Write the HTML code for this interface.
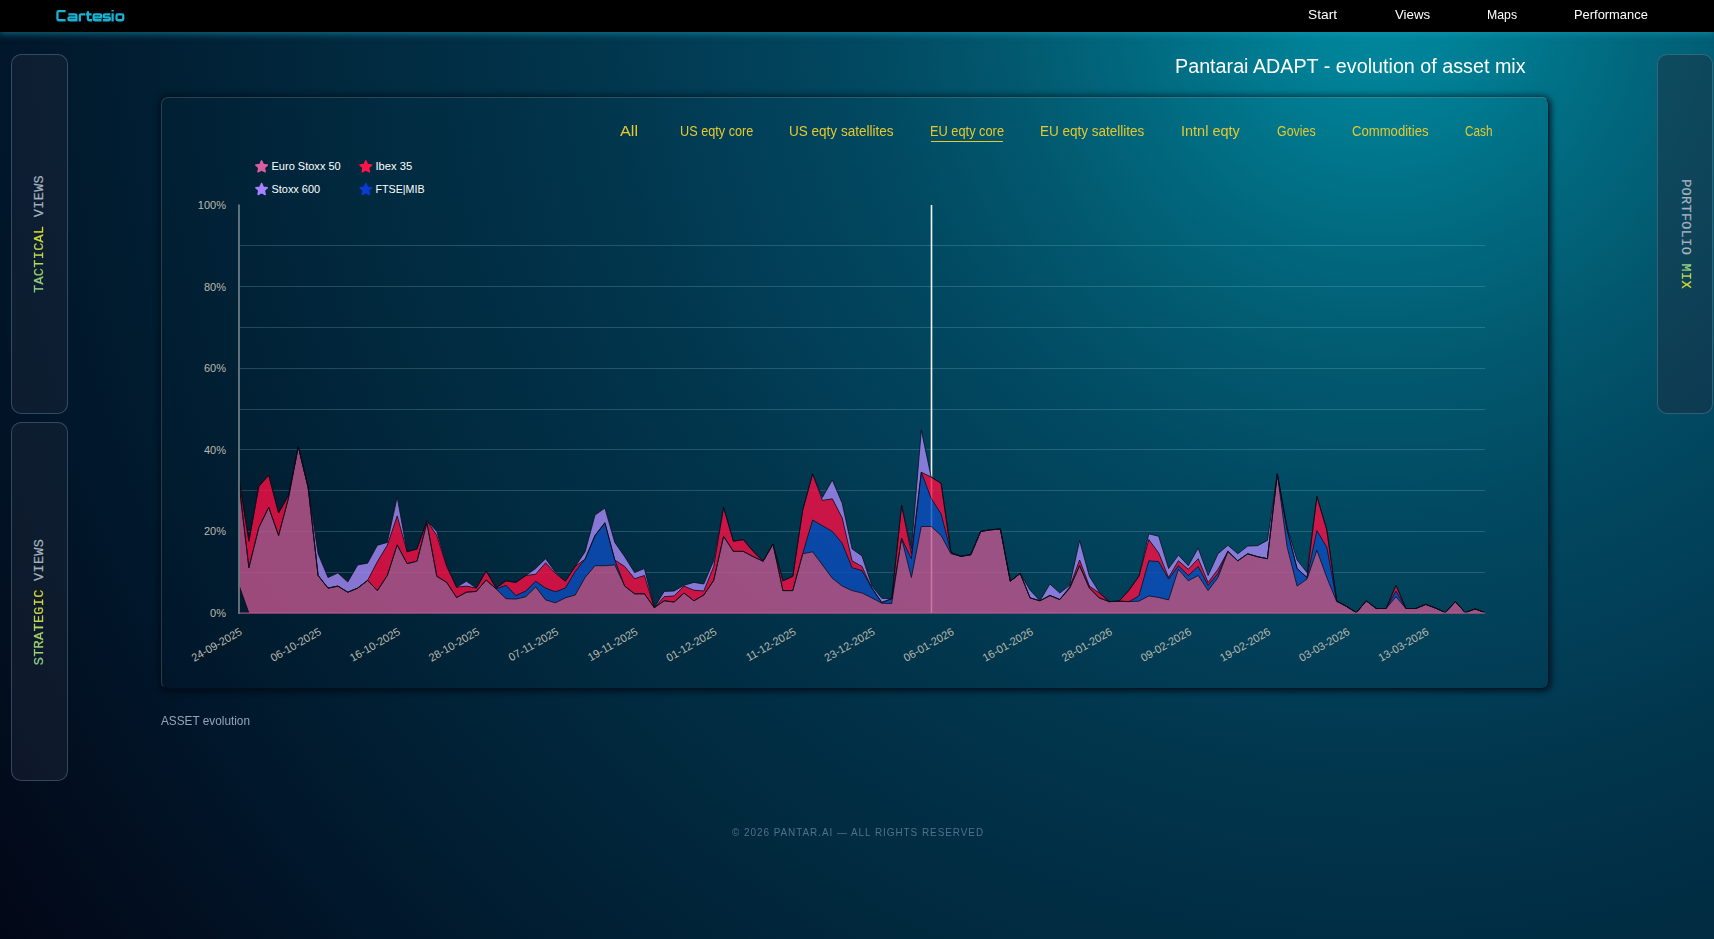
<!DOCTYPE html>
<html lang="en"><head><meta charset="utf-8"><title>Cartesio</title>
<style>
html,body{margin:0;padding:0}
body{width:1714px;height:939px;overflow:hidden;position:relative;font-family:"Liberation Sans",sans-serif;
background:#021426;}
#bg{position:absolute;left:0;top:0;width:1714px;height:939px;
background:radial-gradient(circle 1750px at 1380px 0px, rgb(0,138,160) 0px, rgb(0,128,150) 92px, rgb(1,103,125) 262px, rgb(2,88,110) 379px, rgb(1,72,96) 527px, rgb(2,64,89) 639px, rgb(1,55,78) 771px, rgb(1,46,68) 927px, rgb(1,44,66) 982px, rgb(1,30,50) 1244px, rgb(1,24,44) 1351px, rgb(2,13,30) 1550px, rgb(2,8,24) 1648px, rgb(2,5,19) 1750px);}
#hdr{position:absolute;left:0;top:0;width:1714px;height:31.5px;background:#000;box-shadow:0 1px 7px 1px rgba(25,160,190,.55);}
.tx{position:absolute;white-space:nowrap;transform-origin:0 50%;}
.panel{position:absolute;border:1px solid rgba(110,150,175,.38);border-radius:10px;background:rgba(30,41,59,.42);box-sizing:border-box;}
.vt{position:absolute;white-space:nowrap;font-family:"Liberation Mono",monospace;font-size:13.5px;letter-spacing:0.33px;color:#a6b2be;line-height:16px;-webkit-text-stroke:0.2px #a6b2be;}
.grad{background:linear-gradient(90deg,#79cd9c,#ece21c);-webkit-background-clip:text;background-clip:text;color:transparent;-webkit-text-stroke:0.2px rgba(200,215,90,.75);}
#card{position:absolute;left:161px;top:96.5px;width:1388px;height:592px;box-sizing:border-box;border-radius:7px;
border:1px solid;border-color:rgba(150,158,165,.27) rgba(0,14,28,.8) rgba(0,14,28,.8) rgba(150,158,165,.27);box-shadow:0 0 7px 1px rgba(0,5,15,.62), 2px 2px 5px rgba(0,5,15,.35);}
#ul{position:absolute;left:931px;top:140.8px;width:72px;height:1.2px;background:#e6c830;}
</style></head><body>
<div id="bg"></div>
<div id="hdr"></div>
<div class="panel" style="left:10.5px;top:54px;width:57px;height:359.5px"></div>
<div class="panel" style="left:10.5px;top:421.5px;width:57px;height:359.5px"></div>
<div class="panel" style="left:1656.5px;top:54px;width:56px;height:359.5px"></div>
<div class="vt" id="v1" style="left:40.2px;top:234.4px;transform:translate(-50%,-50%) rotate(-90deg)"><span class="grad">TACTICAL</span> VIEWS</div>
<div class="vt" id="v2" style="left:40.2px;top:602px;transform:translate(-50%,-50%) rotate(-90deg)"><span class="grad">STRATEGIC</span> VIEWS</div>
<div class="vt" id="v3" style="left:1685px;top:233.6px;transform:translate(-50%,-50%) rotate(90deg)">PORTFOLIO <span class="grad">MIX</span></div>
<div id="card"></div>
<svg id="chart" width="1714" height="939" viewBox="0 0 1714 939" style="position:absolute;left:0;top:0">
<line x1="239.0" y1="572.5" x2="1485.0" y2="572.5" stroke="#8fc3cf" stroke-opacity="0.24" stroke-width="1"/>
<line x1="239.0" y1="531.5" x2="1485.0" y2="531.5" stroke="#8fc3cf" stroke-opacity="0.24" stroke-width="1"/>
<line x1="239.0" y1="490.5" x2="1485.0" y2="490.5" stroke="#8fc3cf" stroke-opacity="0.24" stroke-width="1"/>
<line x1="239.0" y1="449.5" x2="1485.0" y2="449.5" stroke="#8fc3cf" stroke-opacity="0.24" stroke-width="1"/>
<line x1="239.0" y1="409.5" x2="1485.0" y2="409.5" stroke="#8fc3cf" stroke-opacity="0.24" stroke-width="1"/>
<line x1="239.0" y1="368.5" x2="1485.0" y2="368.5" stroke="#8fc3cf" stroke-opacity="0.24" stroke-width="1"/>
<line x1="239.0" y1="327.5" x2="1485.0" y2="327.5" stroke="#8fc3cf" stroke-opacity="0.24" stroke-width="1"/>
<line x1="239.0" y1="286.5" x2="1485.0" y2="286.5" stroke="#8fc3cf" stroke-opacity="0.24" stroke-width="1"/>
<line x1="239.0" y1="245.5" x2="1485.0" y2="245.5" stroke="#8fc3cf" stroke-opacity="0.24" stroke-width="1"/>
<line x1="931.5" y1="205" x2="931.5" y2="613" stroke="#ffffff" stroke-width="1.6" stroke-opacity="0.95"/>
<path d="M239.0,478.8 L248.9,541.2 L258.8,486.5 L268.7,475.1 L278.6,513.0 L288.4,495.5 L298.3,446.5 L308.2,487.7 L318.1,553.8 L328.0,577.5 L337.9,573.0 L347.8,582.0 L357.7,564.9 L367.6,563.2 L377.4,545.3 L387.3,542.4 L397.2,497.1 L407.1,551.8 L417.0,548.9 L426.9,520.8 L436.8,531.4 L446.7,565.3 L456.6,587.3 L466.4,581.2 L476.3,588.1 L486.2,571.0 L496.1,588.1 L506.0,580.8 L515.9,582.4 L525.8,575.5 L535.7,568.5 L545.6,558.7 L555.4,572.2 L565.3,581.2 L575.2,566.5 L585.1,551.8 L595.0,515.1 L604.9,508.1 L614.8,542.4 L624.7,556.7 L634.6,572.6 L644.4,568.5 L654.3,607.7 L664.2,591.4 L674.1,591.0 L684.0,585.3 L693.9,582.4 L703.8,584.0 L713.7,560.8 L723.6,507.3 L733.4,541.2 L743.3,539.6 L753.2,551.4 L763.1,561.2 L773.0,544.0 L782.9,580.8 L792.8,576.3 L802.7,510.2 L812.6,473.9 L822.4,497.5 L832.3,480.0 L842.2,503.2 L852.1,548.9 L862.0,555.9 L871.9,586.1 L881.8,598.3 L891.7,598.7 L901.6,505.3 L911.4,548.9 L921.3,430.2 L931.2,477.1 L941.1,483.3 L951.0,552.6 L960.9,556.3 L970.8,554.7 L980.7,531.4 L990.6,529.8 L1000.4,529.0 L1010.3,581.2 L1020.2,573.4 L1030.1,590.2 L1040.0,600.8 L1049.9,584.0 L1059.8,593.0 L1069.7,585.3 L1079.6,540.4 L1089.4,576.3 L1099.3,592.2 L1109.2,601.6 L1119.1,601.2 L1129.0,590.2 L1138.9,576.3 L1148.8,533.8 L1158.7,536.3 L1168.6,568.5 L1178.4,555.1 L1188.3,565.7 L1198.2,548.1 L1208.1,575.5 L1218.0,553.8 L1227.9,545.3 L1237.8,553.8 L1247.7,546.1 L1257.6,545.7 L1267.4,540.4 L1277.3,473.9 L1287.2,527.7 L1297.1,560.0 L1307.0,572.6 L1316.9,496.3 L1326.8,529.8 L1336.7,600.8 L1346.6,606.5 L1356.4,612.6 L1366.3,600.8 L1376.2,608.5 L1386.1,608.5 L1396.0,585.3 L1405.9,608.5 L1415.8,608.5 L1425.7,604.4 L1435.6,608.1 L1445.4,612.6 L1455.3,601.6 L1465.2,612.6 L1475.1,608.9 L1485.0,612.6 L1485.0,612.6 L1475.1,608.9 L1465.2,612.6 L1455.3,601.6 L1445.4,612.6 L1435.6,608.1 L1425.7,604.4 L1415.8,608.5 L1405.9,608.5 L1396.0,585.3 L1386.1,608.5 L1376.2,608.5 L1366.3,600.8 L1356.4,612.6 L1346.6,606.5 L1336.7,600.8 L1326.8,529.8 L1316.9,496.3 L1307.0,577.5 L1297.1,568.5 L1287.2,529.8 L1277.3,473.9 L1267.4,558.7 L1257.6,556.7 L1247.7,553.8 L1237.8,560.8 L1227.9,551.4 L1218.0,569.3 L1208.1,582.4 L1198.2,558.7 L1188.3,569.3 L1178.4,560.8 L1168.6,577.5 L1158.7,553.0 L1148.8,539.6 L1138.9,576.3 L1129.0,590.2 L1119.1,601.2 L1109.2,601.6 L1099.3,593.0 L1089.4,586.1 L1079.6,560.0 L1069.7,586.9 L1059.8,599.5 L1049.9,595.5 L1040.0,600.8 L1030.1,597.9 L1020.2,573.4 L1010.3,581.2 L1000.4,529.0 L990.6,529.8 L980.7,531.4 L970.8,554.7 L960.9,556.3 L951.0,552.6 L941.1,483.3 L931.2,477.1 L921.3,472.2 L911.4,553.8 L901.6,505.3 L891.7,598.7 L881.8,602.4 L871.9,588.1 L862.0,566.5 L852.1,560.8 L842.2,517.9 L832.3,498.8 L822.4,500.4 L812.6,473.9 L802.7,510.2 L792.8,576.3 L782.9,580.8 L773.0,544.0 L763.1,561.2 L753.2,551.4 L743.3,539.6 L733.4,541.2 L723.6,507.3 L713.7,566.5 L703.8,591.0 L693.9,590.2 L684.0,586.1 L674.1,595.9 L664.2,596.7 L654.3,607.7 L644.4,575.5 L634.6,578.7 L624.7,566.5 L614.8,560.0 L604.9,522.8 L595.0,535.5 L585.1,559.1 L575.2,566.5 L565.3,581.2 L555.4,573.4 L545.6,562.8 L535.7,574.2 L525.8,575.5 L515.9,582.4 L506.0,580.8 L496.1,588.1 L486.2,571.0 L476.3,588.1 L466.4,586.1 L456.6,587.3 L446.7,566.5 L436.8,535.5 L426.9,520.8 L417.0,548.9 L407.1,551.8 L397.2,515.9 L387.3,545.3 L377.4,561.6 L367.6,580.4 L357.7,588.1 L347.8,592.2 L337.9,586.1 L328.0,588.1 L318.1,575.5 L308.2,487.7 L298.3,446.5 L288.4,495.5 L278.6,513.0 L268.7,475.1 L258.8,486.5 L248.9,541.2 L239.0,478.8 Z" fill="#a78bf9" fill-opacity="0.8"/>
<path d="M239.0,478.8 L248.9,541.2 L258.8,486.5 L268.7,475.1 L278.6,513.0 L288.4,495.5 L298.3,446.5 L308.2,487.7 L318.1,575.5 L328.0,588.1 L337.9,586.1 L347.8,592.2 L357.7,588.1 L367.6,580.4 L377.4,561.6 L387.3,545.3 L397.2,515.9 L407.1,551.8 L417.0,548.9 L426.9,520.8 L436.8,535.5 L446.7,566.5 L456.6,587.3 L466.4,586.1 L476.3,588.1 L486.2,571.0 L496.1,588.1 L506.0,580.8 L515.9,582.4 L525.8,575.5 L535.7,574.2 L545.6,562.8 L555.4,573.4 L565.3,581.2 L575.2,566.5 L585.1,559.1 L595.0,535.5 L604.9,522.8 L614.8,560.0 L624.7,566.5 L634.6,578.7 L644.4,575.5 L654.3,607.7 L664.2,596.7 L674.1,595.9 L684.0,586.1 L693.9,590.2 L703.8,591.0 L713.7,566.5 L723.6,507.3 L733.4,541.2 L743.3,539.6 L753.2,551.4 L763.1,561.2 L773.0,544.0 L782.9,580.8 L792.8,576.3 L802.7,510.2 L812.6,473.9 L822.4,500.4 L832.3,498.8 L842.2,517.9 L852.1,560.8 L862.0,566.5 L871.9,588.1 L881.8,602.4 L891.7,598.7 L901.6,505.3 L911.4,553.8 L921.3,472.2 L931.2,477.1 L941.1,483.3 L951.0,552.6 L960.9,556.3 L970.8,554.7 L980.7,531.4 L990.6,529.8 L1000.4,529.0 L1010.3,581.2 L1020.2,573.4 L1030.1,597.9 L1040.0,600.8 L1049.9,595.5 L1059.8,599.5 L1069.7,586.9 L1079.6,560.0 L1089.4,586.1 L1099.3,593.0 L1109.2,601.6 L1119.1,601.2 L1129.0,590.2 L1138.9,576.3 L1148.8,539.6 L1158.7,553.0 L1168.6,577.5 L1178.4,560.8 L1188.3,569.3 L1198.2,558.7 L1208.1,582.4 L1218.0,569.3 L1227.9,551.4 L1237.8,560.8 L1247.7,553.8 L1257.6,556.7 L1267.4,558.7 L1277.3,473.9 L1287.2,529.8 L1297.1,568.5 L1307.0,577.5 L1316.9,496.3 L1326.8,529.8 L1336.7,600.8 L1346.6,606.5 L1356.4,612.6 L1366.3,600.8 L1376.2,608.5 L1386.1,608.5 L1396.0,585.3 L1405.9,608.5 L1415.8,608.5 L1425.7,604.4 L1435.6,608.1 L1445.4,612.6 L1455.3,601.6 L1465.2,612.6 L1475.1,608.9 L1485.0,612.6 L1485.0,612.6 L1475.1,608.9 L1465.2,612.6 L1455.3,601.6 L1445.4,612.6 L1435.6,608.1 L1425.7,604.4 L1415.8,608.5 L1405.9,608.5 L1396.0,591.0 L1386.1,608.5 L1376.2,608.5 L1366.3,600.8 L1356.4,612.6 L1346.6,606.5 L1336.7,600.8 L1326.8,547.3 L1316.9,530.6 L1307.0,577.5 L1297.1,568.5 L1287.2,529.8 L1277.3,473.9 L1267.4,558.7 L1257.6,556.7 L1247.7,553.8 L1237.8,560.8 L1227.9,551.4 L1218.0,573.4 L1208.1,585.3 L1198.2,566.5 L1188.3,575.5 L1178.4,565.7 L1168.6,579.1 L1158.7,561.6 L1148.8,560.8 L1138.9,595.9 L1129.0,601.6 L1119.1,601.2 L1109.2,601.6 L1099.3,597.9 L1089.4,588.1 L1079.6,565.7 L1069.7,588.1 L1059.8,599.5 L1049.9,595.5 L1040.0,600.8 L1030.1,597.9 L1020.2,573.4 L1010.3,581.2 L1000.4,529.0 L990.6,529.8 L980.7,531.4 L970.8,554.7 L960.9,556.3 L951.0,552.6 L941.1,513.9 L931.2,498.4 L921.3,472.2 L911.4,558.7 L901.6,538.3 L891.7,598.7 L881.8,602.4 L871.9,588.1 L862.0,570.6 L852.1,567.7 L842.2,543.2 L832.3,531.4 L822.4,525.7 L812.6,520.0 L802.7,553.8 L792.8,590.6 L782.9,590.6 L773.0,544.0 L763.1,561.2 L753.2,556.7 L743.3,551.4 L733.4,551.4 L723.6,536.3 L713.7,580.4 L703.8,595.0 L693.9,600.8 L684.0,593.0 L674.1,602.0 L664.2,600.8 L654.3,607.7 L644.4,593.8 L634.6,593.8 L624.7,586.1 L614.8,560.0 L604.9,522.8 L595.0,535.5 L585.1,559.1 L575.2,571.4 L565.3,588.1 L555.4,591.8 L545.6,588.1 L535.7,581.2 L525.8,591.0 L515.9,595.5 L506.0,585.3 L496.1,588.9 L486.2,580.0 L476.3,591.4 L466.4,592.2 L456.6,597.5 L446.7,582.4 L436.8,576.3 L426.9,522.8 L417.0,561.2 L407.1,563.6 L397.2,544.9 L387.3,575.5 L377.4,590.6 L367.6,580.4 L357.7,588.1 L347.8,592.2 L337.9,586.1 L328.0,588.1 L318.1,575.5 L308.2,487.7 L298.3,446.5 L288.4,498.4 L278.6,535.5 L268.7,507.3 L258.8,527.7 L248.9,567.7 L239.0,484.1 Z" fill="#fd0e45" fill-opacity="0.8"/>
<path d="M239.0,484.1 L248.9,567.7 L258.8,527.7 L268.7,507.3 L278.6,535.5 L288.4,498.4 L298.3,446.5 L308.2,487.7 L318.1,575.5 L328.0,588.1 L337.9,586.1 L347.8,592.2 L357.7,588.1 L367.6,580.4 L377.4,590.6 L387.3,575.5 L397.2,544.9 L407.1,563.6 L417.0,561.2 L426.9,522.8 L436.8,576.3 L446.7,582.4 L456.6,597.5 L466.4,592.2 L476.3,591.4 L486.2,580.0 L496.1,588.9 L506.0,585.3 L515.9,595.5 L525.8,591.0 L535.7,581.2 L545.6,588.1 L555.4,591.8 L565.3,588.1 L575.2,571.4 L585.1,559.1 L595.0,535.5 L604.9,522.8 L614.8,560.0 L624.7,586.1 L634.6,593.8 L644.4,593.8 L654.3,607.7 L664.2,600.8 L674.1,602.0 L684.0,593.0 L693.9,600.8 L703.8,595.0 L713.7,580.4 L723.6,536.3 L733.4,551.4 L743.3,551.4 L753.2,556.7 L763.1,561.2 L773.0,544.0 L782.9,590.6 L792.8,590.6 L802.7,553.8 L812.6,520.0 L822.4,525.7 L832.3,531.4 L842.2,543.2 L852.1,567.7 L862.0,570.6 L871.9,588.1 L881.8,602.4 L891.7,598.7 L901.6,538.3 L911.4,558.7 L921.3,472.2 L931.2,498.4 L941.1,513.9 L951.0,552.6 L960.9,556.3 L970.8,554.7 L980.7,531.4 L990.6,529.8 L1000.4,529.0 L1010.3,581.2 L1020.2,573.4 L1030.1,597.9 L1040.0,600.8 L1049.9,595.5 L1059.8,599.5 L1069.7,588.1 L1079.6,565.7 L1089.4,588.1 L1099.3,597.9 L1109.2,601.6 L1119.1,601.2 L1129.0,601.6 L1138.9,595.9 L1148.8,560.8 L1158.7,561.6 L1168.6,579.1 L1178.4,565.7 L1188.3,575.5 L1198.2,566.5 L1208.1,585.3 L1218.0,573.4 L1227.9,551.4 L1237.8,560.8 L1247.7,553.8 L1257.6,556.7 L1267.4,558.7 L1277.3,473.9 L1287.2,529.8 L1297.1,568.5 L1307.0,577.5 L1316.9,530.6 L1326.8,547.3 L1336.7,600.8 L1346.6,606.5 L1356.4,612.6 L1366.3,600.8 L1376.2,608.5 L1386.1,608.5 L1396.0,591.0 L1405.9,608.5 L1415.8,608.5 L1425.7,604.4 L1435.6,608.1 L1445.4,612.6 L1455.3,601.6 L1465.2,612.6 L1475.1,608.9 L1485.0,612.6 L1485.0,612.6 L1475.1,608.9 L1465.2,612.6 L1455.3,601.6 L1445.4,612.6 L1435.6,608.1 L1425.7,604.4 L1415.8,608.5 L1405.9,608.5 L1396.0,596.7 L1386.1,608.5 L1376.2,608.5 L1366.3,600.8 L1356.4,612.6 L1346.6,606.5 L1336.7,601.6 L1326.8,577.5 L1316.9,550.2 L1307.0,579.1 L1297.1,586.1 L1287.2,547.3 L1277.3,473.9 L1267.4,558.7 L1257.6,556.7 L1247.7,553.8 L1237.8,560.8 L1227.9,551.4 L1218.0,577.5 L1208.1,590.6 L1198.2,575.5 L1188.3,580.8 L1178.4,569.3 L1168.6,599.9 L1158.7,597.5 L1148.8,595.9 L1138.9,601.2 L1129.0,601.6 L1119.1,601.2 L1109.2,601.6 L1099.3,597.9 L1089.4,588.1 L1079.6,565.7 L1069.7,588.1 L1059.8,599.5 L1049.9,595.5 L1040.0,600.8 L1030.1,597.9 L1020.2,573.4 L1010.3,581.2 L1000.4,529.0 L990.6,529.8 L980.7,531.4 L970.8,554.7 L960.9,556.3 L951.0,553.8 L941.1,535.5 L931.2,526.5 L921.3,526.5 L911.4,577.5 L901.6,538.3 L891.7,603.6 L881.8,603.2 L871.9,597.9 L862.0,593.0 L852.1,590.6 L842.2,586.1 L832.3,578.3 L822.4,564.9 L812.6,551.8 L802.7,553.8 L792.8,590.6 L782.9,590.6 L773.0,544.0 L763.1,561.2 L753.2,556.7 L743.3,551.4 L733.4,551.4 L723.6,536.3 L713.7,580.4 L703.8,595.0 L693.9,600.8 L684.0,593.0 L674.1,602.0 L664.2,600.8 L654.3,607.7 L644.4,593.8 L634.6,593.8 L624.7,586.1 L614.8,564.9 L604.9,565.7 L595.0,565.7 L585.1,577.5 L575.2,595.0 L565.3,597.9 L555.4,602.8 L545.6,599.9 L535.7,586.9 L525.8,596.7 L515.9,599.1 L506.0,598.7 L496.1,588.9 L486.2,580.0 L476.3,591.4 L466.4,592.2 L456.6,597.5 L446.7,582.4 L436.8,576.3 L426.9,522.8 L417.0,561.2 L407.1,563.6 L397.2,544.9 L387.3,575.5 L377.4,590.6 L367.6,580.4 L357.7,588.1 L347.8,592.2 L337.9,586.1 L328.0,588.1 L318.1,575.5 L308.2,487.7 L298.3,446.5 L288.4,498.4 L278.6,535.5 L268.7,507.3 L258.8,527.7 L248.9,567.7 L239.0,484.1 Z" fill="#0d4dbf" fill-opacity="0.8"/>
<path d="M239.0,484.1 L248.9,567.7 L258.8,527.7 L268.7,507.3 L278.6,535.5 L288.4,498.4 L298.3,446.5 L308.2,487.7 L318.1,575.5 L328.0,588.1 L337.9,586.1 L347.8,592.2 L357.7,588.1 L367.6,580.4 L377.4,590.6 L387.3,575.5 L397.2,544.9 L407.1,563.6 L417.0,561.2 L426.9,522.8 L436.8,576.3 L446.7,582.4 L456.6,597.5 L466.4,592.2 L476.3,591.4 L486.2,580.0 L496.1,588.9 L506.0,598.7 L515.9,599.1 L525.8,596.7 L535.7,586.9 L545.6,599.9 L555.4,602.8 L565.3,597.9 L575.2,595.0 L585.1,577.5 L595.0,565.7 L604.9,565.7 L614.8,564.9 L624.7,586.1 L634.6,593.8 L644.4,593.8 L654.3,607.7 L664.2,600.8 L674.1,602.0 L684.0,593.0 L693.9,600.8 L703.8,595.0 L713.7,580.4 L723.6,536.3 L733.4,551.4 L743.3,551.4 L753.2,556.7 L763.1,561.2 L773.0,544.0 L782.9,590.6 L792.8,590.6 L802.7,553.8 L812.6,551.8 L822.4,564.9 L832.3,578.3 L842.2,586.1 L852.1,590.6 L862.0,593.0 L871.9,597.9 L881.8,603.2 L891.7,603.6 L901.6,538.3 L911.4,577.5 L921.3,526.5 L931.2,526.5 L941.1,535.5 L951.0,553.8 L960.9,556.3 L970.8,554.7 L980.7,531.4 L990.6,529.8 L1000.4,529.0 L1010.3,581.2 L1020.2,573.4 L1030.1,597.9 L1040.0,600.8 L1049.9,595.5 L1059.8,599.5 L1069.7,588.1 L1079.6,565.7 L1089.4,588.1 L1099.3,597.9 L1109.2,601.6 L1119.1,601.2 L1129.0,601.6 L1138.9,601.2 L1148.8,595.9 L1158.7,597.5 L1168.6,599.9 L1178.4,569.3 L1188.3,580.8 L1198.2,575.5 L1208.1,590.6 L1218.0,577.5 L1227.9,551.4 L1237.8,560.8 L1247.7,553.8 L1257.6,556.7 L1267.4,558.7 L1277.3,473.9 L1287.2,547.3 L1297.1,586.1 L1307.0,579.1 L1316.9,550.2 L1326.8,577.5 L1336.7,601.6 L1346.6,606.5 L1356.4,612.6 L1366.3,600.8 L1376.2,608.5 L1386.1,608.5 L1396.0,596.7 L1405.9,608.5 L1415.8,608.5 L1425.7,604.4 L1435.6,608.1 L1445.4,612.6 L1455.3,601.6 L1465.2,612.6 L1475.1,608.9 L1485.0,612.6 L1485.0,613.0 L1475.1,613.0 L1465.2,613.0 L1455.3,613.0 L1445.4,613.0 L1435.6,613.0 L1425.7,613.0 L1415.8,613.0 L1405.9,613.0 L1396.0,613.0 L1386.1,613.0 L1376.2,613.0 L1366.3,613.0 L1356.4,613.0 L1346.6,613.0 L1336.7,613.0 L1326.8,613.0 L1316.9,613.0 L1307.0,613.0 L1297.1,613.0 L1287.2,613.0 L1277.3,613.0 L1267.4,613.0 L1257.6,613.0 L1247.7,613.0 L1237.8,613.0 L1227.9,613.0 L1218.0,613.0 L1208.1,613.0 L1198.2,613.0 L1188.3,613.0 L1178.4,613.0 L1168.6,613.0 L1158.7,613.0 L1148.8,613.0 L1138.9,613.0 L1129.0,613.0 L1119.1,613.0 L1109.2,613.0 L1099.3,613.0 L1089.4,613.0 L1079.6,613.0 L1069.7,613.0 L1059.8,613.0 L1049.9,613.0 L1040.0,613.0 L1030.1,613.0 L1020.2,613.0 L1010.3,613.0 L1000.4,613.0 L990.6,613.0 L980.7,613.0 L970.8,613.0 L960.9,613.0 L951.0,613.0 L941.1,613.0 L931.2,613.0 L921.3,613.0 L911.4,613.0 L901.6,613.0 L891.7,613.0 L881.8,613.0 L871.9,613.0 L862.0,613.0 L852.1,613.0 L842.2,613.0 L832.3,613.0 L822.4,613.0 L812.6,613.0 L802.7,613.0 L792.8,613.0 L782.9,613.0 L773.0,613.0 L763.1,613.0 L753.2,613.0 L743.3,613.0 L733.4,613.0 L723.6,613.0 L713.7,613.0 L703.8,613.0 L693.9,613.0 L684.0,613.0 L674.1,613.0 L664.2,613.0 L654.3,613.0 L644.4,613.0 L634.6,613.0 L624.7,613.0 L614.8,613.0 L604.9,613.0 L595.0,613.0 L585.1,613.0 L575.2,613.0 L565.3,613.0 L555.4,613.0 L545.6,613.0 L535.7,613.0 L525.8,613.0 L515.9,613.0 L506.0,613.0 L496.1,613.0 L486.2,613.0 L476.3,613.0 L466.4,613.0 L456.6,613.0 L446.7,613.0 L436.8,613.0 L426.9,613.0 L417.0,613.0 L407.1,613.0 L397.2,613.0 L387.3,613.0 L377.4,613.0 L367.6,613.0 L357.7,613.0 L347.8,613.0 L337.9,613.0 L328.0,613.0 L318.1,613.0 L308.2,613.0 L298.3,613.0 L288.4,613.0 L278.6,613.0 L268.7,613.0 L258.8,613.0 L248.9,613.0 L239.0,585.3 Z" fill="#c35690" fill-opacity="0.8"/>
<path d="M239.0,478.8 L248.9,541.2 L258.8,486.5 L268.7,475.1 L278.6,513.0 L288.4,495.5 L298.3,446.5 L308.2,487.7 L318.1,553.8 L328.0,577.5 L337.9,573.0 L347.8,582.0 L357.7,564.9 L367.6,563.2 L377.4,545.3 L387.3,542.4 L397.2,497.1 L407.1,551.8 L417.0,548.9 L426.9,520.8 L436.8,531.4 L446.7,565.3 L456.6,587.3 L466.4,581.2 L476.3,588.1 L486.2,571.0 L496.1,588.1 L506.0,580.8 L515.9,582.4 L525.8,575.5 L535.7,568.5 L545.6,558.7 L555.4,572.2 L565.3,581.2 L575.2,566.5 L585.1,551.8 L595.0,515.1 L604.9,508.1 L614.8,542.4 L624.7,556.7 L634.6,572.6 L644.4,568.5 L654.3,607.7 L664.2,591.4 L674.1,591.0 L684.0,585.3 L693.9,582.4 L703.8,584.0 L713.7,560.8 L723.6,507.3 L733.4,541.2 L743.3,539.6 L753.2,551.4 L763.1,561.2 L773.0,544.0 L782.9,580.8 L792.8,576.3 L802.7,510.2 L812.6,473.9 L822.4,497.5 L832.3,480.0 L842.2,503.2 L852.1,548.9 L862.0,555.9 L871.9,586.1 L881.8,598.3 L891.7,598.7 L901.6,505.3 L911.4,548.9 L921.3,430.2 L931.2,477.1 L941.1,483.3 L951.0,552.6 L960.9,556.3 L970.8,554.7 L980.7,531.4 L990.6,529.8 L1000.4,529.0 L1010.3,581.2 L1020.2,573.4 L1030.1,590.2 L1040.0,600.8 L1049.9,584.0 L1059.8,593.0 L1069.7,585.3 L1079.6,540.4 L1089.4,576.3 L1099.3,592.2 L1109.2,601.6 L1119.1,601.2 L1129.0,590.2 L1138.9,576.3 L1148.8,533.8 L1158.7,536.3 L1168.6,568.5 L1178.4,555.1 L1188.3,565.7 L1198.2,548.1 L1208.1,575.5 L1218.0,553.8 L1227.9,545.3 L1237.8,553.8 L1247.7,546.1 L1257.6,545.7 L1267.4,540.4 L1277.3,473.9 L1287.2,527.7 L1297.1,560.0 L1307.0,572.6 L1316.9,496.3 L1326.8,529.8 L1336.7,600.8 L1346.6,606.5 L1356.4,612.6 L1366.3,600.8 L1376.2,608.5 L1386.1,608.5 L1396.0,585.3 L1405.9,608.5 L1415.8,608.5 L1425.7,604.4 L1435.6,608.1 L1445.4,612.6 L1455.3,601.6 L1465.2,612.6 L1475.1,608.9 L1485.0,612.6" fill="none" stroke="#0a0a18" stroke-width="0.95" stroke-linejoin="round" stroke-opacity="0.8"/>
<path d="M239.0,478.8 L248.9,541.2 L258.8,486.5 L268.7,475.1 L278.6,513.0 L288.4,495.5 L298.3,446.5 L308.2,487.7 L318.1,575.5 L328.0,588.1 L337.9,586.1 L347.8,592.2 L357.7,588.1 L367.6,580.4 L377.4,561.6 L387.3,545.3 L397.2,515.9 L407.1,551.8 L417.0,548.9 L426.9,520.8 L436.8,535.5 L446.7,566.5 L456.6,587.3 L466.4,586.1 L476.3,588.1 L486.2,571.0 L496.1,588.1 L506.0,580.8 L515.9,582.4 L525.8,575.5 L535.7,574.2 L545.6,562.8 L555.4,573.4 L565.3,581.2 L575.2,566.5 L585.1,559.1 L595.0,535.5 L604.9,522.8 L614.8,560.0 L624.7,566.5 L634.6,578.7 L644.4,575.5 L654.3,607.7 L664.2,596.7 L674.1,595.9 L684.0,586.1 L693.9,590.2 L703.8,591.0 L713.7,566.5 L723.6,507.3 L733.4,541.2 L743.3,539.6 L753.2,551.4 L763.1,561.2 L773.0,544.0 L782.9,580.8 L792.8,576.3 L802.7,510.2 L812.6,473.9 L822.4,500.4 L832.3,498.8 L842.2,517.9 L852.1,560.8 L862.0,566.5 L871.9,588.1 L881.8,602.4 L891.7,598.7 L901.6,505.3 L911.4,553.8 L921.3,472.2 L931.2,477.1 L941.1,483.3 L951.0,552.6 L960.9,556.3 L970.8,554.7 L980.7,531.4 L990.6,529.8 L1000.4,529.0 L1010.3,581.2 L1020.2,573.4 L1030.1,597.9 L1040.0,600.8 L1049.9,595.5 L1059.8,599.5 L1069.7,586.9 L1079.6,560.0 L1089.4,586.1 L1099.3,593.0 L1109.2,601.6 L1119.1,601.2 L1129.0,590.2 L1138.9,576.3 L1148.8,539.6 L1158.7,553.0 L1168.6,577.5 L1178.4,560.8 L1188.3,569.3 L1198.2,558.7 L1208.1,582.4 L1218.0,569.3 L1227.9,551.4 L1237.8,560.8 L1247.7,553.8 L1257.6,556.7 L1267.4,558.7 L1277.3,473.9 L1287.2,529.8 L1297.1,568.5 L1307.0,577.5 L1316.9,496.3 L1326.8,529.8 L1336.7,600.8 L1346.6,606.5 L1356.4,612.6 L1366.3,600.8 L1376.2,608.5 L1386.1,608.5 L1396.0,585.3 L1405.9,608.5 L1415.8,608.5 L1425.7,604.4 L1435.6,608.1 L1445.4,612.6 L1455.3,601.6 L1465.2,612.6 L1475.1,608.9 L1485.0,612.6" fill="none" stroke="#0a0a18" stroke-width="0.95" stroke-linejoin="round" stroke-opacity="0.8"/>
<path d="M239.0,484.1 L248.9,567.7 L258.8,527.7 L268.7,507.3 L278.6,535.5 L288.4,498.4 L298.3,446.5 L308.2,487.7 L318.1,575.5 L328.0,588.1 L337.9,586.1 L347.8,592.2 L357.7,588.1 L367.6,580.4 L377.4,590.6 L387.3,575.5 L397.2,544.9 L407.1,563.6 L417.0,561.2 L426.9,522.8 L436.8,576.3 L446.7,582.4 L456.6,597.5 L466.4,592.2 L476.3,591.4 L486.2,580.0 L496.1,588.9 L506.0,585.3 L515.9,595.5 L525.8,591.0 L535.7,581.2 L545.6,588.1 L555.4,591.8 L565.3,588.1 L575.2,571.4 L585.1,559.1 L595.0,535.5 L604.9,522.8 L614.8,560.0 L624.7,586.1 L634.6,593.8 L644.4,593.8 L654.3,607.7 L664.2,600.8 L674.1,602.0 L684.0,593.0 L693.9,600.8 L703.8,595.0 L713.7,580.4 L723.6,536.3 L733.4,551.4 L743.3,551.4 L753.2,556.7 L763.1,561.2 L773.0,544.0 L782.9,590.6 L792.8,590.6 L802.7,553.8 L812.6,520.0 L822.4,525.7 L832.3,531.4 L842.2,543.2 L852.1,567.7 L862.0,570.6 L871.9,588.1 L881.8,602.4 L891.7,598.7 L901.6,538.3 L911.4,558.7 L921.3,472.2 L931.2,498.4 L941.1,513.9 L951.0,552.6 L960.9,556.3 L970.8,554.7 L980.7,531.4 L990.6,529.8 L1000.4,529.0 L1010.3,581.2 L1020.2,573.4 L1030.1,597.9 L1040.0,600.8 L1049.9,595.5 L1059.8,599.5 L1069.7,588.1 L1079.6,565.7 L1089.4,588.1 L1099.3,597.9 L1109.2,601.6 L1119.1,601.2 L1129.0,601.6 L1138.9,595.9 L1148.8,560.8 L1158.7,561.6 L1168.6,579.1 L1178.4,565.7 L1188.3,575.5 L1198.2,566.5 L1208.1,585.3 L1218.0,573.4 L1227.9,551.4 L1237.8,560.8 L1247.7,553.8 L1257.6,556.7 L1267.4,558.7 L1277.3,473.9 L1287.2,529.8 L1297.1,568.5 L1307.0,577.5 L1316.9,530.6 L1326.8,547.3 L1336.7,600.8 L1346.6,606.5 L1356.4,612.6 L1366.3,600.8 L1376.2,608.5 L1386.1,608.5 L1396.0,591.0 L1405.9,608.5 L1415.8,608.5 L1425.7,604.4 L1435.6,608.1 L1445.4,612.6 L1455.3,601.6 L1465.2,612.6 L1475.1,608.9 L1485.0,612.6" fill="none" stroke="#0a0a18" stroke-width="0.95" stroke-linejoin="round" stroke-opacity="0.8"/>
<path d="M239.0,484.1 L248.9,567.7 L258.8,527.7 L268.7,507.3 L278.6,535.5 L288.4,498.4 L298.3,446.5 L308.2,487.7 L318.1,575.5 L328.0,588.1 L337.9,586.1 L347.8,592.2 L357.7,588.1 L367.6,580.4 L377.4,590.6 L387.3,575.5 L397.2,544.9 L407.1,563.6 L417.0,561.2 L426.9,522.8 L436.8,576.3 L446.7,582.4 L456.6,597.5 L466.4,592.2 L476.3,591.4 L486.2,580.0 L496.1,588.9 L506.0,598.7 L515.9,599.1 L525.8,596.7 L535.7,586.9 L545.6,599.9 L555.4,602.8 L565.3,597.9 L575.2,595.0 L585.1,577.5 L595.0,565.7 L604.9,565.7 L614.8,564.9 L624.7,586.1 L634.6,593.8 L644.4,593.8 L654.3,607.7 L664.2,600.8 L674.1,602.0 L684.0,593.0 L693.9,600.8 L703.8,595.0 L713.7,580.4 L723.6,536.3 L733.4,551.4 L743.3,551.4 L753.2,556.7 L763.1,561.2 L773.0,544.0 L782.9,590.6 L792.8,590.6 L802.7,553.8 L812.6,551.8 L822.4,564.9 L832.3,578.3 L842.2,586.1 L852.1,590.6 L862.0,593.0 L871.9,597.9 L881.8,603.2 L891.7,603.6 L901.6,538.3 L911.4,577.5 L921.3,526.5 L931.2,526.5 L941.1,535.5 L951.0,553.8 L960.9,556.3 L970.8,554.7 L980.7,531.4 L990.6,529.8 L1000.4,529.0 L1010.3,581.2 L1020.2,573.4 L1030.1,597.9 L1040.0,600.8 L1049.9,595.5 L1059.8,599.5 L1069.7,588.1 L1079.6,565.7 L1089.4,588.1 L1099.3,597.9 L1109.2,601.6 L1119.1,601.2 L1129.0,601.6 L1138.9,601.2 L1148.8,595.9 L1158.7,597.5 L1168.6,599.9 L1178.4,569.3 L1188.3,580.8 L1198.2,575.5 L1208.1,590.6 L1218.0,577.5 L1227.9,551.4 L1237.8,560.8 L1247.7,553.8 L1257.6,556.7 L1267.4,558.7 L1277.3,473.9 L1287.2,547.3 L1297.1,586.1 L1307.0,579.1 L1316.9,550.2 L1326.8,577.5 L1336.7,601.6 L1346.6,606.5 L1356.4,612.6 L1366.3,600.8 L1376.2,608.5 L1386.1,608.5 L1396.0,596.7 L1405.9,608.5 L1415.8,608.5 L1425.7,604.4 L1435.6,608.1 L1445.4,612.6 L1455.3,601.6 L1465.2,612.6 L1475.1,608.9 L1485.0,612.6" fill="none" stroke="#0a0a18" stroke-width="0.95" stroke-linejoin="round" stroke-opacity="0.8"/>
<path d="M239.0,585.3 L248.9,613.0" fill="none" stroke="#0a0a18" stroke-width="1" stroke-opacity="0.85"/>
<line x1="239.0" y1="613.1" x2="1485.0" y2="613.1" stroke="#c0628f" stroke-width="1"/>
<line x1="239" y1="204.5" x2="239" y2="614" stroke="#6b7a80" stroke-width="1.8"/>
<text x="226" y="617.0" text-anchor="end" font-size="11" fill="#bcb9ad" font-family="Liberation Sans, sans-serif">0%</text>
<text x="226" y="535.4" text-anchor="end" font-size="11" fill="#bcb9ad" font-family="Liberation Sans, sans-serif">20%</text>
<text x="226" y="453.8" text-anchor="end" font-size="11" fill="#bcb9ad" font-family="Liberation Sans, sans-serif">40%</text>
<text x="226" y="372.2" text-anchor="end" font-size="11" fill="#bcb9ad" font-family="Liberation Sans, sans-serif">60%</text>
<text x="226" y="290.6" text-anchor="end" font-size="11" fill="#bcb9ad" font-family="Liberation Sans, sans-serif">80%</text>
<text x="226" y="209.0" text-anchor="end" font-size="11" fill="#bcb9ad" font-family="Liberation Sans, sans-serif">100%</text>
<text transform="translate(241.0,630.5) rotate(-30)" text-anchor="end" dy="0.35em" font-size="11" fill="#bcb9ad" font-family="Liberation Sans, sans-serif">24-09-2025</text>
<text transform="translate(320.1,630.5) rotate(-30)" text-anchor="end" dy="0.35em" font-size="11" fill="#bcb9ad" font-family="Liberation Sans, sans-serif">06-10-2025</text>
<text transform="translate(399.2,630.5) rotate(-30)" text-anchor="end" dy="0.35em" font-size="11" fill="#bcb9ad" font-family="Liberation Sans, sans-serif">16-10-2025</text>
<text transform="translate(478.3,630.5) rotate(-30)" text-anchor="end" dy="0.35em" font-size="11" fill="#bcb9ad" font-family="Liberation Sans, sans-serif">28-10-2025</text>
<text transform="translate(557.4,630.5) rotate(-30)" text-anchor="end" dy="0.35em" font-size="11" fill="#bcb9ad" font-family="Liberation Sans, sans-serif">07-11-2025</text>
<text transform="translate(636.6,630.5) rotate(-30)" text-anchor="end" dy="0.35em" font-size="11" fill="#bcb9ad" font-family="Liberation Sans, sans-serif">19-11-2025</text>
<text transform="translate(715.7,630.5) rotate(-30)" text-anchor="end" dy="0.35em" font-size="11" fill="#bcb9ad" font-family="Liberation Sans, sans-serif">01-12-2025</text>
<text transform="translate(794.8,630.5) rotate(-30)" text-anchor="end" dy="0.35em" font-size="11" fill="#bcb9ad" font-family="Liberation Sans, sans-serif">11-12-2025</text>
<text transform="translate(873.9,630.5) rotate(-30)" text-anchor="end" dy="0.35em" font-size="11" fill="#bcb9ad" font-family="Liberation Sans, sans-serif">23-12-2025</text>
<text transform="translate(953.0,630.5) rotate(-30)" text-anchor="end" dy="0.35em" font-size="11" fill="#bcb9ad" font-family="Liberation Sans, sans-serif">06-01-2026</text>
<text transform="translate(1032.1,630.5) rotate(-30)" text-anchor="end" dy="0.35em" font-size="11" fill="#bcb9ad" font-family="Liberation Sans, sans-serif">16-01-2026</text>
<text transform="translate(1111.2,630.5) rotate(-30)" text-anchor="end" dy="0.35em" font-size="11" fill="#bcb9ad" font-family="Liberation Sans, sans-serif">28-01-2026</text>
<text transform="translate(1190.3,630.5) rotate(-30)" text-anchor="end" dy="0.35em" font-size="11" fill="#bcb9ad" font-family="Liberation Sans, sans-serif">09-02-2026</text>
<text transform="translate(1269.4,630.5) rotate(-30)" text-anchor="end" dy="0.35em" font-size="11" fill="#bcb9ad" font-family="Liberation Sans, sans-serif">19-02-2026</text>
<text transform="translate(1348.6,630.5) rotate(-30)" text-anchor="end" dy="0.35em" font-size="11" fill="#bcb9ad" font-family="Liberation Sans, sans-serif">03-03-2026</text>
<text transform="translate(1427.7,630.5) rotate(-30)" text-anchor="end" dy="0.35em" font-size="11" fill="#bcb9ad" font-family="Liberation Sans, sans-serif">13-03-2026</text>
<polygon points="261.60,160.90 263.25,164.63 267.31,165.05 264.26,167.77 265.13,171.75 261.60,169.70 258.07,171.75 258.94,167.77 255.89,165.05 259.95,164.63" fill="#d85f9f" stroke="#d85f9f" stroke-width="1.6" stroke-linejoin="round"/>
<polygon points="365.80,160.90 367.45,164.63 371.51,165.05 368.46,167.77 369.33,171.75 365.80,169.70 362.27,171.75 363.14,167.77 360.09,165.05 364.15,164.63" fill="#ff1446" stroke="#ff1446" stroke-width="1.6" stroke-linejoin="round"/>
<polygon points="261.60,183.60 263.25,187.33 267.31,187.75 264.26,190.47 265.13,194.45 261.60,192.40 258.07,194.45 258.94,190.47 255.89,187.75 259.95,187.33" fill="#a582ff" stroke="#a582ff" stroke-width="1.6" stroke-linejoin="round"/>
<polygon points="365.80,183.60 367.45,187.33 371.51,187.75 368.46,190.47 369.33,194.45 365.80,192.40 362.27,194.45 363.14,190.47 360.09,187.75 364.15,187.33" fill="#0a3cd2" stroke="#0a3cd2" stroke-width="1.6" stroke-linejoin="round"/>
<text x="271.5" y="170" font-size="11" fill="#ffffff" textLength="69.2" lengthAdjust="spacingAndGlyphs" font-family="Liberation Sans, sans-serif">Euro Stoxx 50</text>
<text x="375.5" y="170" font-size="11" fill="#ffffff" textLength="36.6" lengthAdjust="spacingAndGlyphs" font-family="Liberation Sans, sans-serif">Ibex 35</text>
<text x="271.5" y="193" font-size="11" fill="#ffffff" textLength="48.6" lengthAdjust="spacingAndGlyphs" font-family="Liberation Sans, sans-serif">Stoxx 600</text>
<text x="375.5" y="193" font-size="11" fill="#ffffff" textLength="49.0" lengthAdjust="spacingAndGlyphs" font-family="Liberation Sans, sans-serif">FTSE|MIB</text>
<path d="M65.6,11.05 H58.7 Q57.45,11.05 57.45,12.3 V19 Q57.45,20.25 58.7,20.25 H65.6" fill="none" stroke="#17b2d1" stroke-width="2.3" stroke-linejoin="miter"/>
<path d="M68.4,14.35 H75.1 Q76.35,14.35 76.35,15.6 V20.25 H69.6 Q68.4,20.25 68.4,19.1 V18.4 Q68.4,17.3 69.6,17.3 H76.35" fill="none" stroke="#17b2d1" stroke-width="2.3" stroke-linejoin="miter"/>
<path d="M79.8,21.4 V15.6 Q79.8,14.35 81.05,14.35 H85.3" fill="none" stroke="#17b2d1" stroke-width="2.3" stroke-linejoin="miter"/>
<path d="M87.9,11.3 V19 Q87.9,20.25 89.15,20.25 H92 M85.9,14.35 H91.6" fill="none" stroke="#17b2d1" stroke-width="2.3" stroke-linejoin="miter"/>
<path d="M101.6,20.25 H94.9 Q93.65,20.25 93.65,19 V15.6 Q93.65,14.35 94.9,14.35 H99.9 Q101.15,14.35 101.15,15.6 V17.3 H93.65" fill="none" stroke="#17b2d1" stroke-width="2.3" stroke-linejoin="miter"/>
<path d="M110.3,14.35 H105 Q103.75,14.35 103.75,15.4 V16.2 Q103.75,17.3 105,17.3 H108.6 Q109.85,17.3 109.85,18.4 V19.2 Q109.85,20.25 108.6,20.25 H102.9" fill="none" stroke="#17b2d1" stroke-width="2.3" stroke-linejoin="miter"/>
<path d="M112.6,13.2 V21.4 M112.6,9.9 V11.6" fill="none" stroke="#17b2d1" stroke-width="2.3" stroke-linejoin="miter"/>
<path d="M117.8,14.35 H122 Q123.25,14.35 123.25,15.6 V19 Q123.25,20.25 122,20.25 H117.8 Q116.55,20.25 116.55,19 V15.6 Q116.55,14.35 117.8,14.35 Z" fill="none" stroke="#17b2d1" stroke-width="2.3" stroke-linejoin="miter"/>
</svg>
<div id="ul"></div>
<div id="n1" class="tx" style="left:1308.01px;top:6.00px;font-size:13px;line-height:18px;color:#ffffff;transform:scaleX(1.0574)">Start</div>
<div id="n2" class="tx" style="left:1395.01px;top:6.00px;font-size:13px;line-height:18px;color:#ffffff;transform:scaleX(1.0207)">Views</div>
<div id="n3" class="tx" style="left:1486.74px;top:6.00px;font-size:13px;line-height:18px;color:#ffffff;transform:scaleX(0.9441)">Maps</div>
<div id="n4" class="tx" style="left:1574.43px;top:6.00px;font-size:13px;line-height:18px;color:#ffffff;transform:scaleX(0.9918)">Performance</div>
<div id="title" class="tx" style="left:1175.14px;top:51.87px;font-size:20px;line-height:28px;color:#ffffff;transform:scaleX(0.9866)">Pantarai ADAPT - evolution of asset mix</div>
<div id="t1" class="tx" style="left:619.89px;top:121.15px;font-size:14px;line-height:20px;color:#e6c830;transform:scaleX(1.1607)">All</div>
<div id="t2" class="tx" style="left:680.20px;top:121.15px;font-size:14px;line-height:20px;color:#e6c830;transform:scaleX(0.9063)">US eqty core</div>
<div id="t3" class="tx" style="left:788.95px;top:121.15px;font-size:14px;line-height:20px;color:#e6c830;transform:scaleX(0.9666)">US eqty satellites</div>
<div id="t4" class="tx" style="left:930.43px;top:121.15px;font-size:14px;line-height:20px;color:#e6c830;transform:scaleX(0.9145)">EU eqty core</div>
<div id="t5" class="tx" style="left:1040.06px;top:121.15px;font-size:14px;line-height:20px;color:#e6c830;transform:scaleX(0.9632)">EU eqty satellites</div>
<div id="t6" class="tx" style="left:1180.80px;top:121.15px;font-size:14px;line-height:20px;color:#e6c830;transform:scaleX(1.0349)">Intnl eqty</div>
<div id="t7" class="tx" style="left:1276.87px;top:121.15px;font-size:14px;line-height:20px;color:#e6c830;transform:scaleX(0.8873)">Govies</div>
<div id="t8" class="tx" style="left:1352.20px;top:121.15px;font-size:14px;line-height:20px;color:#e6c830;transform:scaleX(0.9362)">Commodities</div>
<div id="t9" class="tx" style="left:1465.40px;top:121.15px;font-size:14px;line-height:20px;color:#e6c830;transform:scaleX(0.8411)">Cash</div>
<div id="asset" class="tx" style="left:161.35px;top:712.74px;font-size:12px;line-height:17px;color:#94a3b8;transform:scaleX(0.9831)">ASSET evolution</div>
<div id="foot" class="tx" style="left:731.67px;top:824.96px;font-size:10.5px;line-height:15px;color:#51708a;letter-spacing:1px;transform:scaleX(0.9479)">&copy; 2026 PANTAR.AI &mdash; ALL RIGHTS RESERVED</div>
</body></html>
